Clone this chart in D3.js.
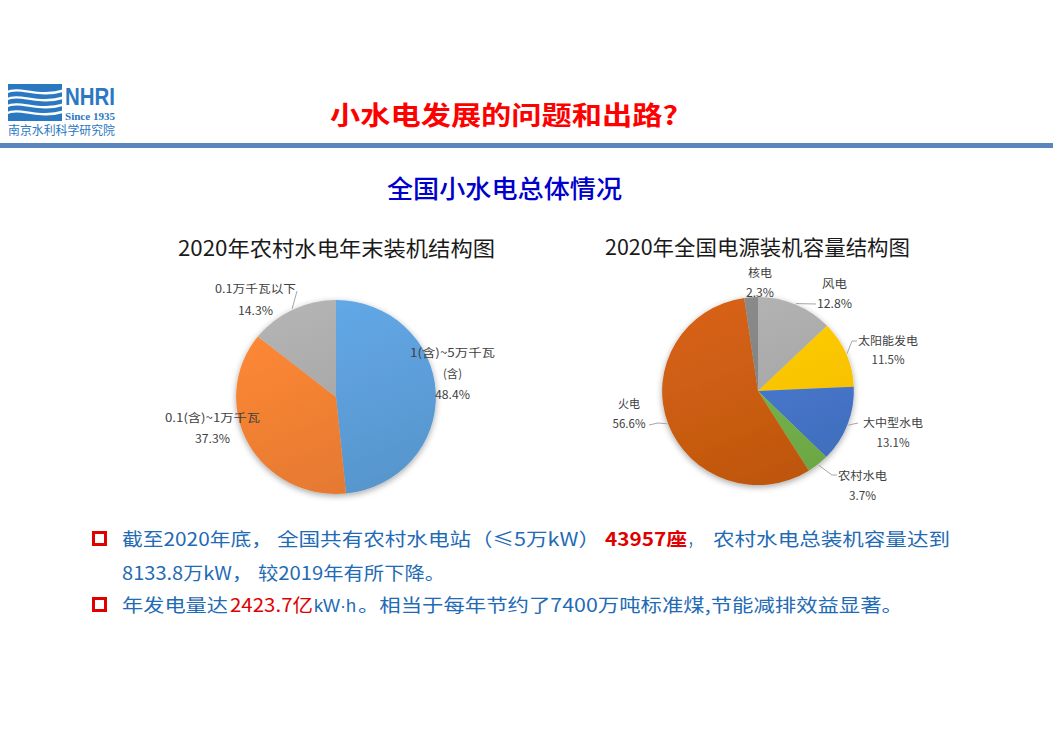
<!DOCTYPE html>
<html><head><meta charset="utf-8">
<script src="https://cdn.jsdelivr.net/npm/d3@7"></script>
<style>
html,body{margin:0;padding:0;background:#fff;}
svg{display:block;font-family:"Noto Sans CJK SC","Noto Sans",sans-serif;}
</style></head>
<body>
<svg id="c" width="1053" height="736"></svg>
<script>
// ---------- data ----------
const leftTitle = "2020年农村水电年末装机结构图";
const leftCategories = ["1(含)~5万千瓦\n(含)", "0.1(含)~1万千瓦", "0.1万千瓦以下"];
const leftValues = [48.4, 37.3, 14.3];
const leftColors = ["#5B9BD5", "#ED7D31", "#A5A5A5"];

const rightTitle = "2020年全国电源装机容量结构图";
const rightCategories = ["风电", "太阳能发电", "大中型水电", "农村水电", "火电", "核电"];
const rightValues = [12.8, 11.5, 13.1, 3.7, 56.6, 2.3];
const rightColors = ["#A5A5A5", "#FFC000", "#4472C4", "#70AD47", "#C55A11", "#7F7F7F"];

const pageTitle = "小水电发展的问题和出路?";
const subTitle = "全国小水电总体情况";

// ---------- page ----------
const svg = d3.select("#c");
const defs = svg.append("defs");
const f = defs.append("filter").attr("id","sh").attr("x","-20%").attr("y","-20%").attr("width","140%").attr("height","140%");
f.append("feDropShadow").attr("dx",0).attr("dy",2).attr("stdDeviation",3).attr("flood-color","#000").attr("flood-opacity",0.35);

function fit(sel, w){ if(w) sel.attr("textLength", w).attr("lengthAdjust","spacingAndGlyphs"); return sel; }

// logo
const logoBlue = "#2B78C2";
const logo = svg.append("g");
logo.append("rect").attr("x",8).attr("y",84).attr("width",54).attr("height",37).attr("fill",logoBlue);
[91.5, 98.5, 105.5, 112.5].forEach(y=>{
  logo.append("path").attr("d",`M6 ${y+1} C 20 ${y-6}, 38 ${y+7}, 64 ${y-1}`)
    .attr("fill","none").attr("stroke","#fff").attr("stroke-width",2.4);
});
fit(logo.append("text").attr("x",65).attr("y",105).attr("font-family","Liberation Sans, Arial, sans-serif")
  .attr("font-weight","bold").attr("font-size",23).attr("fill",logoBlue).text("NHRI"),50);
fit(logo.append("text").attr("x",65).attr("y",119.5).attr("font-family","Liberation Serif, serif")
  .attr("font-weight","bold").attr("font-size",10).attr("fill",logoBlue).text("Since 1935"),50);
fit(logo.append("text").attr("x",8).attr("y",134.5).attr("font-size",12).attr("fill",logoBlue).text("南京水利科学研究院"),107);

// header
fit(svg.append("text").attr("x",330).attr("y",125).attr("font-size",26).attr("font-weight","bold")
  .attr("fill","#FF0000").text(pageTitle),348);
svg.append("rect").attr("x",0).attr("y",143).attr("width",1053).attr("height",5).attr("fill","#5B85BD");
fit(svg.append("text").attr("x",387).attr("y",198).attr("font-size",25).attr("font-weight",500)
  .attr("fill","#0000CC").text(subTitle),235);

// ---------- pies ----------
function drawPie(opt){
  const {cats, vals, cols, cx, cy, r, sx, title, titleX, titleY, titleW, labels, id} = opt;
  fit(svg.append("text").attr("x",titleX).attr("y",titleY).attr("font-size",21).attr("fill","#1a1a1a").text(title), titleW);
  const pie = d3.pie().sort(null).value(d=>d)(vals);
  const arc = d3.arc().innerRadius(0).outerRadius(r);
  cols.forEach((c,i)=>{
    const g = defs.append("linearGradient").attr("id",`${id}g${i}`).attr("gradientUnits","userSpaceOnUse")
      .attr("x1",-r*0.4).attr("y1",-r).attr("x2",r*0.4).attr("y2",r);
    g.append("stop").attr("offset","0%").attr("stop-color", d3.color(c).brighter(0.25));
    g.append("stop").attr("offset","100%").attr("stop-color", d3.color(c).darker(0.12));
  });
  const g = svg.append("g").attr("transform",`translate(${cx},${cy}) scale(${sx},1)`);
  const sg = g.append("g").attr("filter","url(#sh)");
  sg.selectAll("path").data(pie).join("path")
    .attr("d",arc).attr("fill",(d,i)=>`url(#${id}g${i})`);
  const fmt = d => d3.format(".1f")(d) + "%";
  pie.forEach((d,i)=>{
    const L = labels[i];
    const lines = cats[i].split("\n");
    lines.forEach((t,k)=>{
      fit(svg.append("text").attr("x",L.x).attr("y",L.y0 + k*L.gap).attr("text-anchor","middle")
        .attr("font-size",11.5).attr("fill","#404040").text(t), L.w[k]);
    });
    fit(svg.append("text").attr("x",L.x).attr("y",L.y0 + lines.length*L.gap).attr("text-anchor","middle")
      .attr("font-size",11.5).attr("fill","#404040").text(fmt(vals[i])), L.pw);
    if(L.leader){
      const a = (d.startAngle + d.endAngle)/2;
      const p0 = [cx + sx*(r+1)*Math.sin(a), cy - (r+1)*Math.cos(a)];
      svg.append("path").attr("d", d3.line()([p0, ...L.leader]))
        .attr("fill","none").attr("stroke","#A6A6A6").attr("stroke-width",1);
    }
  });
}

drawPie({
  id:"L", cats:leftCategories, vals:leftValues, cols:leftColors,
  cx:336, cy:397, r:97, sx:1.03,
  title:leftTitle, titleX:178, titleY:256, titleW:317,
  labels:[
    {x:452.5, y0:357, gap:21, w:[85,19], pw:35},
    {x:212.5, y0:422, gap:21, w:[95], pw:35},
    {x:255.5, y0:293, gap:22, w:[81], pw:35, leader:[[297,291]]}
  ]
});

drawPie({
  id:"R", cats:rightCategories, vals:rightValues, cols:rightColors,
  cx:758, cy:391, r:94, sx:1.02,
  title:rightTitle, titleX:605, titleY:255, titleW:305,
  labels:[
    {x:834.5, y0:288, gap:20, w:[25], pw:35, leader:[[816,304]]},
    {x:888, y0:345, gap:19, w:[60], pw:33, leader:[[852,341],[857,341]]},
    {x:893, y0:427, gap:20, w:[60], pw:33, leader:[[858,423]]},
    {x:862.5, y0:480, gap:20, w:[49], pw:27, leader:[[832,475],[837,475]]},
    {x:629, y0:408, gap:20, w:[22], pw:33, leader:[[658,423],[649,425]]},
    {x:760, y0:277, gap:20, w:[24], pw:28}
  ]
});

// ---------- bullet text ----------
const blue = "#1F6BB5", red = "#E00000";
const latin = "Liberation Sans, Arial, sans-serif";
const bulletLines = [
  {y:546, bullet:true, segs:[
    {t:"截至2020年底，", x:122, w:150, c:blue},
    {t:"全国共有农村水电站（≤5万kW）", x:277, w:323, c:blue},
    {t:"43957座", x:605, w:82, c:red, b:true},
    {t:"，", x:688, w:12, c:blue},
    {t:"农村水电总装机容量达到", x:713, w:237, c:blue}
  ]},
  {y:580, bullet:false, segs:[
    {t:"8133.8万kW，", x:122, w:130, c:blue},
    {t:"较2019年有所下降。", x:258, w:187, c:blue}
  ]},
  {y:612, bullet:true, segs:[
    {t:"年发电量达", x:122, w:106, c:blue},
    {t:"2423.7亿", x:230, w:83, c:red},
    {t:"kW·h", x:314, w:42, c:blue, ff:latin},
    {t:"。相当于每年节约了7400万吨标准煤,节能减排效益显著。", x:358, w:545, c:blue}
  ]}
];
bulletLines.forEach(l=>{
  if(l.bullet) svg.append("rect").attr("x",93.5).attr("y",l.y-13.5).attr("width",12).attr("height",12)
    .attr("fill","none").attr("stroke",red).attr("stroke-width",3);
  l.segs.forEach(s=>{
    const t = svg.append("text").attr("x",s.x).attr("y",l.y).attr("font-size",18.5)
      .attr("font-weight", s.b ? "bold" : "normal").attr("fill",s.c).text(s.t);
    if(s.ff) t.attr("font-family", s.ff);
    fit(t, s.w);
  });
});
</script>
</body></html>
